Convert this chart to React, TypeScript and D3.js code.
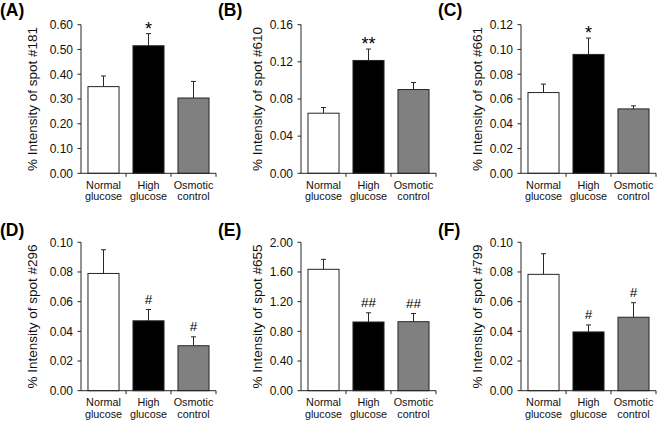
import React from "react";
import * as d3 from "d3";

const categories = [["Normal", "glucose"], ["High", "glucose"], ["Osmotic", "control"]];
const panelLetters = ["(A)", "(B)", "(C)", "(D)", "(E)", "(F)"];
const spotLabels = ["#181", "#610", "#661", "#296", "#655", "#799"];

const meansA = [0.35, 0.515, 0.304];
const errsA = [0.043, 0.049, 0.067];
const meansB = [0.0647, 0.1215, 0.0902];
const errsB = [0.0061, 0.0123, 0.0075];
const meansC = [0.0652, 0.096, 0.052];
const errsC = [0.0068, 0.0132, 0.0025];
const meansD = [0.079, 0.0471, 0.0303];
const errsD = [0.016, 0.0076, 0.006];
const meansE = [1.636, 0.926, 0.93];
const errsE = [0.134, 0.124, 0.11];
const meansF = [0.0784, 0.0396, 0.0495];
const errsF = [0.0139, 0.0047, 0.0098];

const yMaxes = [0.6, 0.16, 0.12, 0.1, 2.0, 0.1];
const tickSteps = [0.1, 0.04, 0.02, 0.02, 0.4, 0.02];

const marksA = ["", "*", ""];
const marksB = ["", "**", ""];
const marksC = ["", "*", ""];
const marksD = ["", "#", "#"];
const marksE = ["", "##", "##"];
const marksF = ["", "#", "#"];

const allMeans = [meansA, meansB, meansC, meansD, meansE, meansF];
const allErrs = [errsA, errsB, errsC, errsD, errsE, errsF];
const allMarks = [marksA, marksB, marksC, marksD, marksE, marksF];

const fills = ["#ffffff", "#000000", "#808080"];
const FONT = "'Liberation Sans', Arial, Helvetica, sans-serif";
const INK = "#262626";

function Panel({ idx }: { idx: number }) {
  const col = idx % 3;
  const row = Math.floor(idx / 3);
  const axisX = 81 + 220 * col;
  const top = row === 0 ? 24.7 : 242.3;
  const bottom = row === 0 ? 173.3 : 390.7;
  const plotW = 135;
  const means = allMeans[idx];
  const errs = allErrs[idx];
  const marks = allMarks[idx];
  const yMax = yMaxes[idx];

  const y = d3.scaleLinear().domain([0, yMax]).range([bottom, top]);
  const keys = categories.map((c) => c.join(" "));
  const x = d3
    .scaleBand<string>()
    .domain(keys)
    .range([axisX, axisX + plotW])
    .paddingInner(0.31)
    .paddingOuter(0.155);
  const xSep = d3.scaleBand<string>().domain(keys).range([axisX, axisX + plotW]).padding(0);

  const nTicks = Math.round(yMax / tickSteps[idx]);
  const ticks = d3.range(nTicks + 1).map((i) => i * tickSteps[idx]);
  const fmt = d3.format(".2f");
  const midY = (top + bottom) / 2;
  const labelX = col === 0 ? axisX - 44 : axisX - 39;
  const letterX = col === 0 ? 0 : 220 * col - 2;
  const letterY = row === 0 ? 16 : 236;

  return (
    <g fontFamily={FONT}>
      <text x={letterX} y={letterY} fontSize={17.5} fontWeight="bold" fill="#000">
        {panelLetters[idx]}
      </text>
      <text
        transform={`translate(${labelX},${midY}) rotate(-90)`}
        textAnchor="middle"
        fontSize={13.5}
        fill="#111"
      >
        {`% Intensity of spot ${spotLabels[idx]}`}
      </text>
      {keys.map((k, i) => {
        const bx = x(k)!;
        const bw = x.bandwidth();
        const cx = bx + bw / 2;
        const yTop = y(means[i]);
        const yErr = y(means[i] + errs[i]);
        const isHash = marks[i].includes("#");
        return (
          <g key={k}>
            <line x1={cx} x2={cx} y1={yTop} y2={yErr} stroke={INK} strokeWidth={1} />
            <line x1={cx - 2.5} x2={cx + 2.5} y1={yErr} y2={yErr} stroke={INK} strokeWidth={1} />
            <rect
              x={bx}
              y={yTop}
              width={bw}
              height={bottom - yTop}
              fill={fills[i]}
              stroke={INK}
              strokeWidth={1}
            />
            {marks[i] && (
              <text
                x={cx}
                y={isHash ? yErr - 6 : yErr + 1}
                textAnchor="middle"
                fontSize={isHash ? 13.5 : 18}
                fill="#000"
              >
                {marks[i]}
              </text>
            )}
            <text x={cx} y={bottom + 15.5} textAnchor="middle" fontSize={10.8} fill="#111">
              {categories[i][0]}
            </text>
            <text x={cx} y={bottom + 27} textAnchor="middle" fontSize={10.8} fill="#111">
              {categories[i][1]}
            </text>
          </g>
        );
      })}
      {/* y axis */}
      <line x1={axisX} x2={axisX} y1={top} y2={bottom} stroke={INK} strokeWidth={1} />
      {ticks.map((t) => (
        <g key={t}>
          <line x1={axisX - 3.5} x2={axisX} y1={y(t)} y2={y(t)} stroke={INK} strokeWidth={1} />
          <text x={axisX - 8} y={y(t)} dy="0.36em" textAnchor="end" fontSize={12} fill="#111">
            {fmt(t)}
          </text>
        </g>
      ))}
      {/* x axis */}
      <line x1={axisX} x2={axisX + plotW} y1={bottom} y2={bottom} stroke={INK} strokeWidth={1} />
      {keys.map((k) => {
        const xe = xSep(k)! + xSep.bandwidth();
        return <line key={k} x1={xe} x2={xe} y1={bottom} y2={bottom + 3.5} stroke={INK} strokeWidth={1} />;
      })}
    </g>
  );
}

export default function App() {
  return (
    <svg
      width={658}
      height={421}
      viewBox="0 0 658 421"
      style={{ position: "absolute", left: 0, top: 0, display: "block", background: "#fff" }}
    >
      <rect x={0} y={0} width={658} height={421} fill="#fff" />
      {[0, 1, 2, 3, 4, 5].map((i) => (
        <Panel key={i} idx={i} />
      ))}
    </svg>
  );
}
